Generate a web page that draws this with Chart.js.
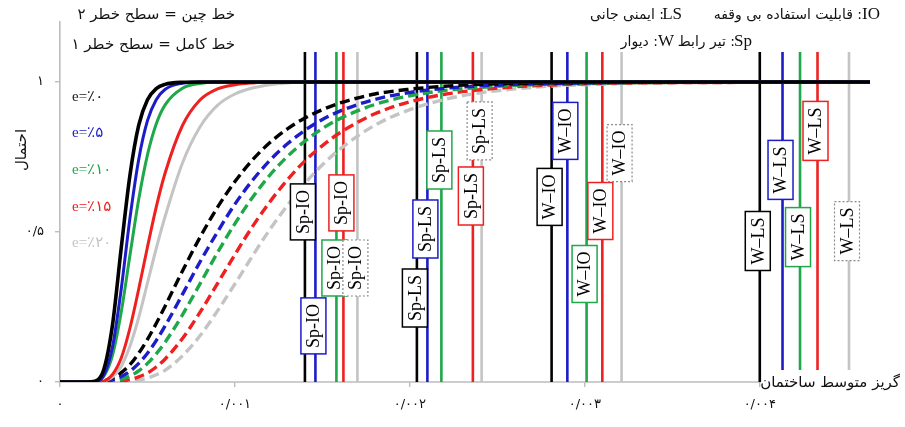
<!DOCTYPE html>
<html>
<head>
<meta charset="utf-8">
<script src="https://cdn.jsdelivr.net/npm/chart.js@4.4.1/dist/chart.umd.min.js"></script>
<style>
html,body{margin:0;padding:0;background:#fff;}
canvas{display:block;}
</style>
</head>
<body>
<canvas id="c" width="905" height="427"></canvas>
<script>
// Average building drift (x) shared by every fragility curve
const drift = [0, 0.00015, 0.0002, 0.00025, 0.0003, 0.00035, 0.0004, 0.00045, 0.0005, 0.00055,
  0.0006, 0.0007, 0.0008, 0.0009, 0.001, 0.0011, 0.0012, 0.0013, 0.0014, 0.0015,
  0.0016, 0.0018, 0.002, 0.0022, 0.0024, 0.0026, 0.0028, 0.003, 0.0033, 0.0036,
  0.004, 0.00463];

// Hazard level 1 (solid) – exceedance probability for e = 0, 5, 10, 15, 20 %
const level1_e0  = [0,0,0.003,0.041,0.19,0.447,0.69,0.856,0.941,0.978,0.992,0.999,1,1,1,1,1,1,1,1,1,1,1,1,1,1,1,1,1,1,1,1];
const level1_e5  = [0,0,0.001,0.022,0.117,0.31,0.547,0.742,0.871,0.941,0.975,0.996,1,1,1,1,1,1,1,1,1,1,1,1,1,1,1,1,1,1,1,1];
const level1_e10 = [0,0,0.0015,0.019,0.089,0.233,0.423,0.609,0.757,0.86,0.923,0.979,0.995,1,1,1,1,1,1,1,1,1,1,1,1,1,1,1,1,1,1,1];
const level1_e15 = [0,0,0,0.003,0.025,0.08,0.18,0.31,0.45,0.583,0.695,0.855,0.94,0.977,0.991,0.997,1,1,1,1,1,1,1,1,1,1,1,1,1,1,1,1];
const level1_e20 = [0,0,0,0.0025,0.016,0.052,0.12,0.215,0.33,0.445,0.55,0.73,0.85,0.922,0.96,0.98,0.991,0.997,1,1,1,1,1,1,1,1,1,1,1,1,1,1];

// Hazard level 2 (dashed)
const level2_e0  = [0,0,0.001,0.004,0.014,0.031,0.058,0.096,0.142,0.195,0.252,0.37,0.482,0.582,0.668,0.74,0.798,0.844,0.88,0.908,0.93,0.96,0.976,0.986,0.992,0.995,0.997,0.998,1,1,1,1];
const level2_e5  = [0,0,0,0.002,0.007,0.018,0.036,0.062,0.096,0.138,0.186,0.292,0.4,0.5,0.593,0.672,0.739,0.794,0.839,0.875,0.903,0.942,0.965,0.979,0.987,0.992,0.995,0.997,0.999,1,1,1];
const level2_e10 = [0,0,0,0.001,0.003,0.009,0.02,0.037,0.062,0.094,0.132,0.224,0.327,0.431,0.528,0.615,0.69,0.752,0.803,0.845,0.878,0.925,0.954,0.972,0.982,0.989,0.993,0.996,0.998,0.999,1,1];
const level2_e15 = [0,0,0,0,0.001,0.003,0.008,0.017,0.03,0.05,0.076,0.145,0.232,0.328,0.425,0.518,0.601,0.674,0.737,0.788,0.831,0.894,0.934,0.959,0.974,0.984,0.99,0.994,0.997,0.998,0.999,1];
const level2_e20 = [0,0,0,0,0,0.001,0.003,0.006,0.013,0.024,0.039,0.087,0.154,0.237,0.327,0.42,0.509,0.589,0.662,0.724,0.776,0.856,0.908,0.942,0.964,0.977,0.986,0.991,0.996,0.998,0.999,1];

// Performance-level drift limits (order: e = 0, 5, 10, 15, 20 %)
const limitNames = ['Sp-IO', 'Sp-LS', 'W\u2013IO', 'W\u2013LS'];
const limitSpIO = [0.00140, 0.00146, 0.00158, 0.00162, 0.00170];
const limitSpLS = [0.00204, 0.00210, 0.00218, 0.00236, 0.00241];
const limitWIO  = [0.00281, 0.00290, 0.00301, 0.00310, 0.00321];
const limitWLS  = [0.00400, 0.00413, 0.00423, 0.00433, 0.00451];
// probability height at which each limit's tag sits
const tagSpIO = [0.567, 0.187, 0.38, 0.597, 0.38];
const tagSpLS = [0.28, 0.51, 0.74, 0.62, 0.837];
const tagWIO  = [0.617, 0.837, 0.36, 0.57, 0.763];
const tagWLS  = [0.47, 0.707, 0.483, 0.837, 0.503];
// start / end probability of each limit line
const lineBottom = [[0,0,0,0,0],[0,0,0,0,0],[0,0,0,0,0],[0,0.04,0.04,0.04,0.04]];
const lineTop = 1.1;

const eLabels = ['e=\u066A\u06F0', 'e=\u066A\u06F5', 'e=\u066A\u06F1\u06F0', 'e=\u066A\u06F1\u06F5', 'e=\u066A\u06F2\u06F0'];
const xTicks = [0, 0.001, 0.002, 0.003, 0.004];
const yTicks = [0, 0.5, 1];

const colors = ['#000000', '#1c1cc8', '#1fa84a', '#ee2020', '#c4c4c4'];

const toFa = s => String(s).replace(/[0-9]/g, d => '\u06F0\u06F1\u06F2\u06F3\u06F4\u06F5\u06F6\u06F7\u06F8\u06F9'[d]).replace('.', '/');

const level1 = [level1_e0, level1_e5, level1_e10, level1_e15, level1_e20];
const level2 = [level2_e0, level2_e5, level2_e10, level2_e15, level2_e20];
const limits = [limitSpIO, limitSpLS, limitWIO, limitWLS];
const tags = [tagSpIO, tagSpLS, tagWIO, tagWLS];

const pts = arr => drift.map((x, i) => ({x, y: arr[i]}));

const datasets = [];
level1.forEach((arr, i) => datasets.push({
  data: pts(arr), borderColor: colors[i], borderWidth: i === 0 ? 3.6 : 3,
  cubicInterpolationMode: 'monotone', pointRadius: 0, fill: false
}));
level2.forEach((arr, i) => datasets.push({
  data: pts(arr), borderColor: colors[i], borderWidth: 3.4, borderDash: [10, 5],
  cubicInterpolationMode: 'monotone', pointRadius: 0, fill: false
}));
limits.forEach((grp, g) => grp.forEach((x, i) => datasets.push({
  data: [{x, y: lineBottom[g][i]}, {x, y: lineTop}], borderColor: colors[i], borderWidth: 2.6,
  pointRadius: 0, fill: false
})));

const SERIF = '"Liberation Serif", "DejaVu Sans", serif';
const FA = '"DejaVu Sans", sans-serif';

const decorations = {
  id: 'decorations',
  beforeDatasetsDraw(chart) {
    const {ctx, scales: {x, y}} = chart;
    ctx.save();
    ctx.strokeStyle = '#bdbdbd';
    ctx.lineWidth = 1.6;
    ctx.beginPath();
    ctx.moveTo(x.getPixelForValue(0), y.getPixelForValue(0));
    ctx.lineTo(x.getPixelForValue(xTicks[xTicks.length - 1]), y.getPixelForValue(0));
    ctx.stroke();
    ctx.restore();
  },
  afterDatasetsDraw(chart) {
    const {ctx, scales: {x, y}} = chart;
    ctx.save();
    // limit tags
    ctx.font = '18px ' + SERIF;
    limits.forEach((grp, g) => grp.forEach((v, i) => {
      const cx = x.getPixelForValue(v) - 2;
      const cy = y.getPixelForValue(tags[g][i]);
      const tw = ctx.measureText(limitNames[g]).width;
      const h = tw + 12, w = 25;
      ctx.fillStyle = '#fff';
      ctx.fillRect(cx - w / 2, cy - h / 2, w, h);
      ctx.lineWidth = 1.5;
      if (i === 4) { ctx.setLineDash([2, 2]); ctx.strokeStyle = '#8a8a8a'; ctx.lineWidth = 1.2; }
      else { ctx.setLineDash([]); ctx.strokeStyle = colors[i]; }
      ctx.strokeRect(cx - w / 2, cy - h / 2, w, h);
      ctx.setLineDash([]);
      ctx.save();
      ctx.translate(cx, cy);
      ctx.rotate(-Math.PI / 2);
      ctx.fillStyle = '#000';
      ctx.textAlign = 'center';
      ctx.textBaseline = 'middle';
      ctx.fillText(limitNames[g], 0, 1);
      ctx.restore();
    }));

    // e legend
    ctx.textBaseline = 'middle';
    ctx.textAlign = 'left';
    ctx.direction = 'ltr';
    ctx.font = '15px ' + SERIF;
    const ey = [97, 133, 170, 207, 243];
    eLabels.forEach((t, i) => {
      ctx.fillStyle = i === 0 ? '#222' : colors[i];
      ctx.fillText(t, 72, ey[i]);
    });

    // notes on line styles
    ctx.fillStyle = '#111';
    ctx.font = '15px ' + FA;
    ctx.direction = 'rtl';
    ctx.textAlign = 'right';
    ctx.fillText('\u062E\u0637 \u0686\u06CC\u0646 = \u0633\u0637\u062D \u062E\u0637\u0631 \u06F2', 235, 15);
    ctx.fillText('\u062E\u0637 \u06A9\u0627\u0645\u0644 = \u0633\u0637\u062D \u062E\u0637\u0631 \u06F1', 235, 45);

    // abbreviations
    ctx.direction = 'ltr';
    ctx.textAlign = 'right';
    ctx.font = '17px ' + SERIF;
    ctx.fillText('IO', 880, 15);
    ctx.fillText('LS', 682, 15);
    ctx.fillText('Sp', 752, 42);
    ctx.fillText('W', 674, 42);
    ctx.font = '14px ' + FA;
    ctx.direction = 'rtl';
    ctx.fillText(': \u0642\u0627\u0628\u0644\u06CC\u062A \u0627\u0633\u062A\u0641\u0627\u062F\u0647 \u0628\u06CC \u0648\u0642\u0641\u0647', 862, 15);
    ctx.fillText(': \u0627\u06CC\u0645\u0646\u06CC \u062C\u0627\u0646\u06CC', 664, 15);
    ctx.fillText(': \u062A\u06CC\u0631 \u0631\u0627\u0628\u0637', 735, 42);
    ctx.fillText(': \u062F\u06CC\u0648\u0627\u0631', 658, 42);

    // axis titles
    ctx.font = '15px ' + FA;
    ctx.fillText('\u06AF\u0631\u06CC\u0632 \u0645\u062A\u0648\u0633\u0637 \u0633\u0627\u062E\u062A\u0645\u0627\u0646', 900, 383);
    ctx.save();
    ctx.translate(22, 150);
    ctx.rotate(-Math.PI / 2);
    ctx.textAlign = 'center';
    ctx.fillText('\u0627\u062D\u062A\u0645\u0627\u0644', 0, 0);
    ctx.restore();
    ctx.restore();
  }
};

new Chart(document.getElementById('c'), {
  type: 'line',
  data: {datasets},
  plugins: [decorations],
  options: {
    responsive: false,
    animation: false,
    devicePixelRatio: 1,
    layout: {padding: {top: 22, right: 35, left: 0, bottom: 0}},
    plugins: {legend: {display: false}, tooltip: {enabled: false}},
    elements: {point: {radius: 0}, line: {borderCapStyle: 'butt'}},
    scales: {
      x: {
        type: 'linear', min: 0, max: 0.00463,
        afterFit(s) { s.height = 45; },
        afterBuildTicks(s) { s.ticks = xTicks.map(v => ({value: v})); },
        border: {display: false},
        grid: {drawOnChartArea: false, drawTicks: true, tickLength: 5, color: '#bdbdbd', lineWidth: 1.4},
        ticks: {padding: 10, color: '#111', font: {family: FA, size: 13}, maxRotation: 0,
          callback: v => toFa(v)}
      },
      y: {
        min: 0, max: 1.2,
        afterFit(s) { s.width = 60; },
        afterBuildTicks(s) { s.ticks = yTicks.map(v => ({value: v})); },
        border: {display: true, color: '#bdbdbd', width: 1.6},
        grid: {drawOnChartArea: false, drawTicks: true, tickLength: 5, color: '#bdbdbd', lineWidth: 1.4},
        ticks: {padding: 11, color: '#111', font: {family: FA, size: 13},
          callback: v => toFa(v)}
      }
    }
  }
});
</script>
</body>
</html>
